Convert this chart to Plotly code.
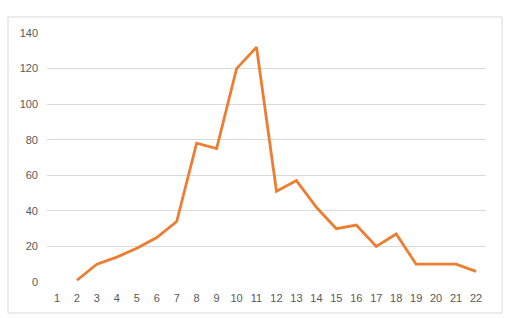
import plotly.graph_objects as go

categories = [str(i) for i in range(1, 23)]
values = [None, 1, 10, 14, 19, 25, 34, 78, 75, 120, 132, 51, 57, 42, 30, 32, 20, 27, 10, 10, 10, 6]
y_ticks = [0, 20, 40, 60, 80, 100, 120, 140]

W, H = 512, 318
L, R, T, B = 47, 26, 33, 36
pw, ph = W - L - R, H - T - B

def px2x(p):
    return (p - L) / pw

def px2y(p):
    return (H - B - p) / ph

fig = go.Figure()
fig.add_trace(go.Scatter(
    x=categories, y=values, mode="lines",
    line=dict(color="#ED7D31", width=2.8),
    connectgaps=False, hoverinfo="x+y",
))

fig.update_layout(
    width=W, height=H,
    margin=dict(l=L, r=R, t=T, b=B),
    paper_bgcolor="white", plot_bgcolor="white",
    showlegend=False,
    font=dict(family="Liberation Sans, Arial, sans-serif", size=11, color="#595959"),
    xaxis=dict(
        type="category", range=[-0.5, 21.5],
        showgrid=False, zeroline=False, showline=False,
        ticks="", ticklen=0, tickfont=dict(size=11, color="#595959"),
    ),
    yaxis=dict(
        range=[0, 140], tickvals=y_ticks,
        showgrid=True, gridcolor="#D9D9D9", gridwidth=1,
        zeroline=False, showline=False, ticks="",
        tickfont=dict(size=11, color="#595959"),
    ),
    shapes=[dict(
        type="rect", xref="paper", yref="paper",
        x0=px2x(8), x1=px2x(502), y0=px2y(313), y1=px2y(17),
        line=dict(color="#D9D9D9", width=1), fillcolor="rgba(0,0,0,0)", layer="below",
    )],
)
fig.update_xaxes(ticklabelstandoff=8)
fig.update_yaxes(ticklabelstandoff=8)

fig.write_html(
    "out.html",
    config={"displayModeBar": False},
    post_script="document.body.style.margin='0';document.body.style.overflow='hidden';",
)
